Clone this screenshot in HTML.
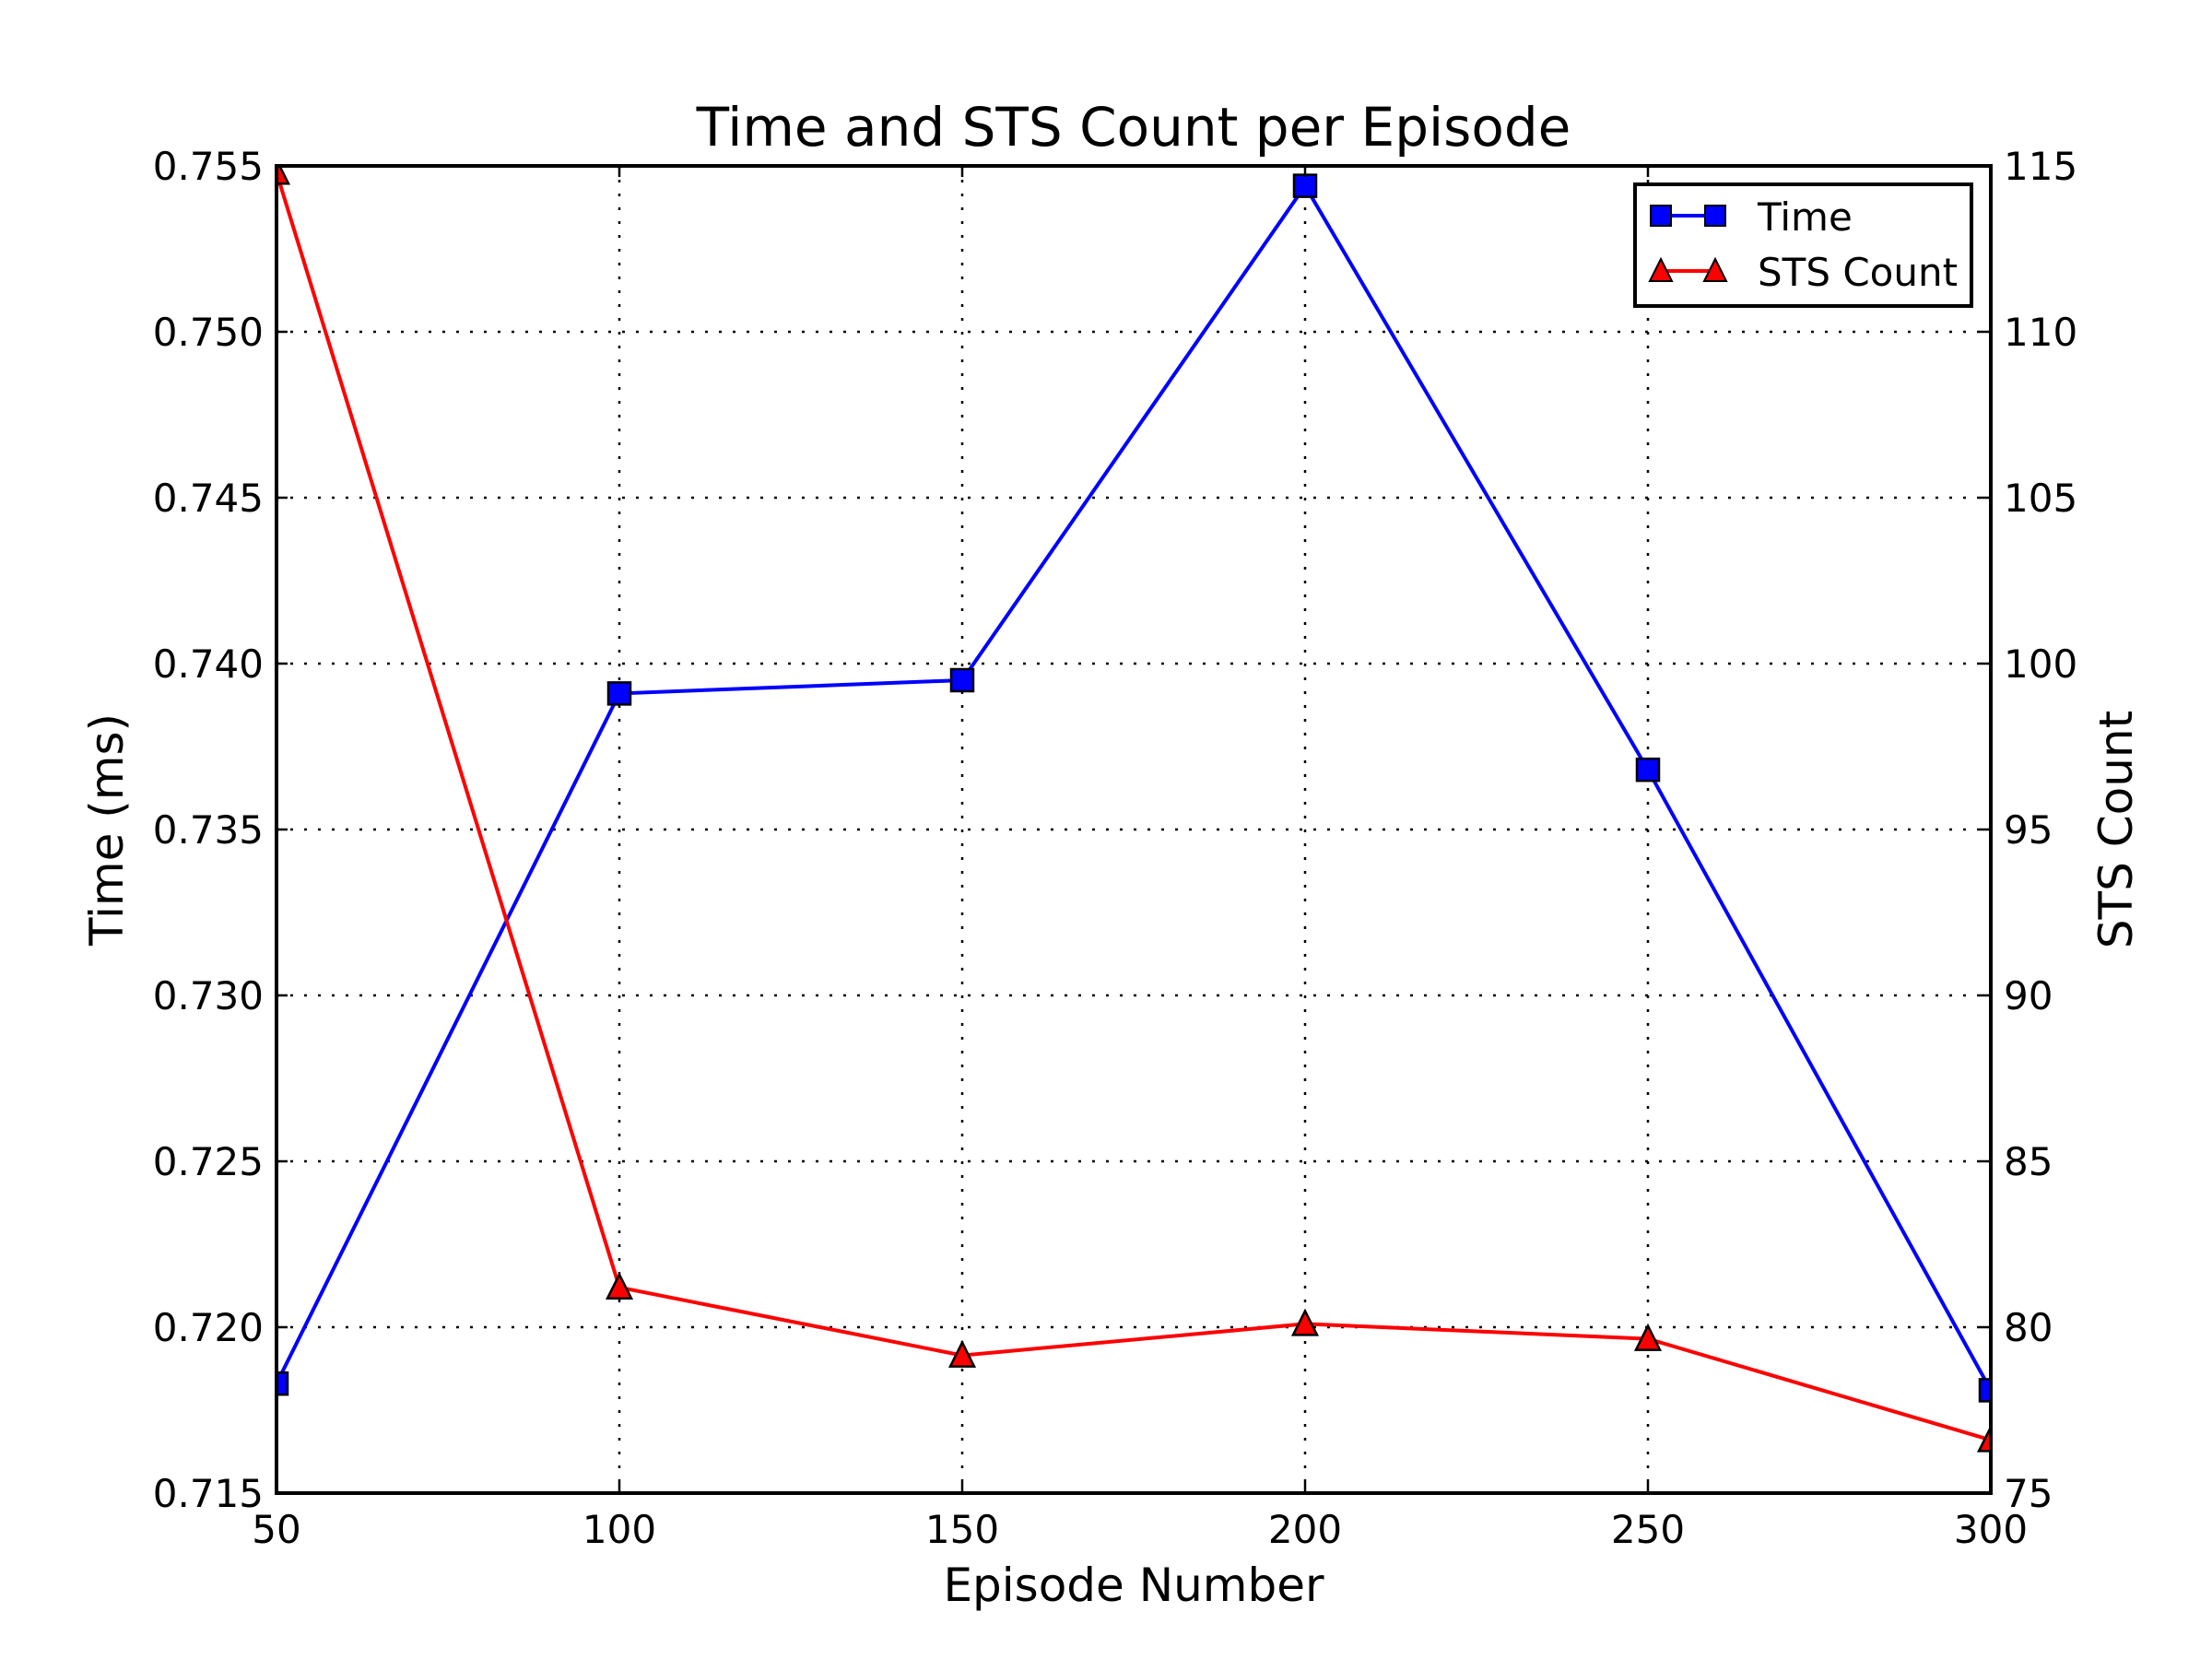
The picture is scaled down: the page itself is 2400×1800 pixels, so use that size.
<!DOCTYPE html>
<html><head><meta charset="utf-8"><style>
html,body{margin:0;padding:0;background:#fff;}
svg{display:block;font-family:"DejaVu Sans","Liberation Sans",sans-serif;}
</style></head><body>
<svg id="chart" width="2400" height="1800" viewBox="0 0 2400 1800" xmlns="http://www.w3.org/2000/svg">
<rect width="2400" height="1800" fill="#fff"/>
<g id="grid"></g>
<g id="series"></g>
<rect x="300" y="180" width="1860" height="1440" fill="none" stroke="#000" stroke-width="4"/>
<g id="ticks"></g>
<text x="1230" y="158" font-size="58" text-anchor="middle">Time and STS Count per Episode</text>
<text x="1230" y="1737" font-size="50" text-anchor="middle">Episode Number</text>
<text transform="translate(133,900) rotate(-90)" font-size="50" text-anchor="middle">Time (ms)</text>
<text transform="translate(2313,900) rotate(-90)" font-size="50" text-anchor="middle">STS Count</text>
<g id="legend">
<rect x="1774" y="200" width="365" height="132" fill="#fff" stroke="#000" stroke-width="4"/>
<line x1="1802" y1="234" x2="1861" y2="234" stroke="#0000ff" stroke-width="4"/>
<rect x="1791" y="223" width="22" height="22" fill="#0000ff" stroke="#000" stroke-width="2"/>
<rect x="1850" y="223" width="22" height="22" fill="#0000ff" stroke="#000" stroke-width="2"/>
<text x="1907" y="250" font-size="42">Time</text>
<line x1="1802" y1="294" x2="1861" y2="294" stroke="#ff0000" stroke-width="4"/>
<polygon points="1802,281 1814,305 1790,305" fill="#ff0000" stroke="#000" stroke-width="2"/>
<polygon points="1861,281 1873,305 1849,305" fill="#ff0000" stroke="#000" stroke-width="2"/>
<text x="1907" y="310" font-size="42">STS Count</text>
</g>
</svg>
<script>
const episodes = [50, 100, 150, 200, 250, 300];
const timeValues = [0.7183, 0.7391, 0.7395, 0.7544, 0.7368, 0.7181];
const stsValues = [114.8, 81.2, 79.15, 80.1, 79.65, 76.6];
const xTicks = [50, 100, 150, 200, 250, 300];
const yLeftTicks = [0.715, 0.720, 0.725, 0.730, 0.735, 0.740, 0.745, 0.750, 0.755];
const yRightTicks = [75, 80, 85, 90, 95, 100, 105, 110, 115];

const L=300,R=2160,T=180,B=1620;
const xs=v=>L+(v-50)/(300-50)*(R-L);
const yl=v=>B-(v-0.715)/(0.755-0.715)*(B-T);
const yr=v=>B-(v-75)/(115-75)*(B-T);
const NS='http://www.w3.org/2000/svg';
function mk(tag,attrs,parent){const e=document.createElementNS(NS,tag);for(const k in attrs)e.setAttribute(k,attrs[k]);parent.appendChild(e);return e;}
const grid=document.getElementById('grid'),ticks=document.getElementById('ticks'),series=document.getElementById('series');

xTicks.forEach(v=>{const x=xs(v);
 const g=mk('line',{x1:x,y1:T,x2:x,y2:B,stroke:'#000','stroke-width':2.5,'stroke-dasharray':'3,12'},grid);
 
 
 mk('line',{x1:x,y1:B,x2:x,y2:B-12,stroke:'#000','stroke-width':2.5},ticks);
 mk('line',{x1:x,y1:T,x2:x,y2:T+12,stroke:'#000','stroke-width':2.5},ticks);
 const t=mk('text',{x:x,y:B+54,'font-size':42,'text-anchor':'middle'},ticks);t.textContent=v;
 
 
});
yLeftTicks.forEach(v=>{const y=yl(v);
 const g=mk('line',{x1:L,y1:y,x2:R,y2:y,stroke:'#000','stroke-width':2.5,'stroke-dasharray':'3,12'},grid);
 
 
 mk('line',{x1:L,y1:y,x2:L+12,y2:y,stroke:'#000','stroke-width':2.5},ticks);
 const t=mk('text',{x:L-14,y:y+15,'font-size':42,'text-anchor':'end'},ticks);t.textContent=v.toFixed(3);
 
 
});
yRightTicks.forEach(v=>{const y=yr(v);
 mk('line',{x1:R,y1:y,x2:R-12,y2:y,stroke:'#000','stroke-width':2.5},ticks);
 const t=mk('text',{x:R+14,y:y+15,'font-size':42,'text-anchor':'start'},ticks);t.textContent=v;
 
 
});

const clip=mk('clipPath',{id:'pc'},document.getElementById('chart'));
mk('rect',{x:L,y:T,width:R-L,height:B-T},clip);
series.setAttribute('clip-path','url(#pc)');

const tl=mk('polyline',{points:episodes.map((e,i)=>xs(e)+','+yl(timeValues[i])).join(' '),fill:'none',stroke:'#0000ff','stroke-width':4},series);


const sl=mk('polyline',{points:episodes.map((e,i)=>xs(e)+','+yr(stsValues[i])).join(' '),fill:'none',stroke:'#ff0000','stroke-width':4},series);


episodes.forEach((e,i)=>{
 const x=xs(e),y=yl(timeValues[i]);
 const m=mk('rect',{x:x-12,y:y-12,width:24,height:24,fill:'#0000ff',stroke:'#000','stroke-width':2.5},series);
 
 
 const y2=yr(stsValues[i]);
 const p=mk('polygon',{points:`${x},${y2-14} ${x+13},${y2+12} ${x-13},${y2+12}`,fill:'#ff0000',stroke:'#000','stroke-width':2.5},series);
 
 
});
</script>
</body></html>
